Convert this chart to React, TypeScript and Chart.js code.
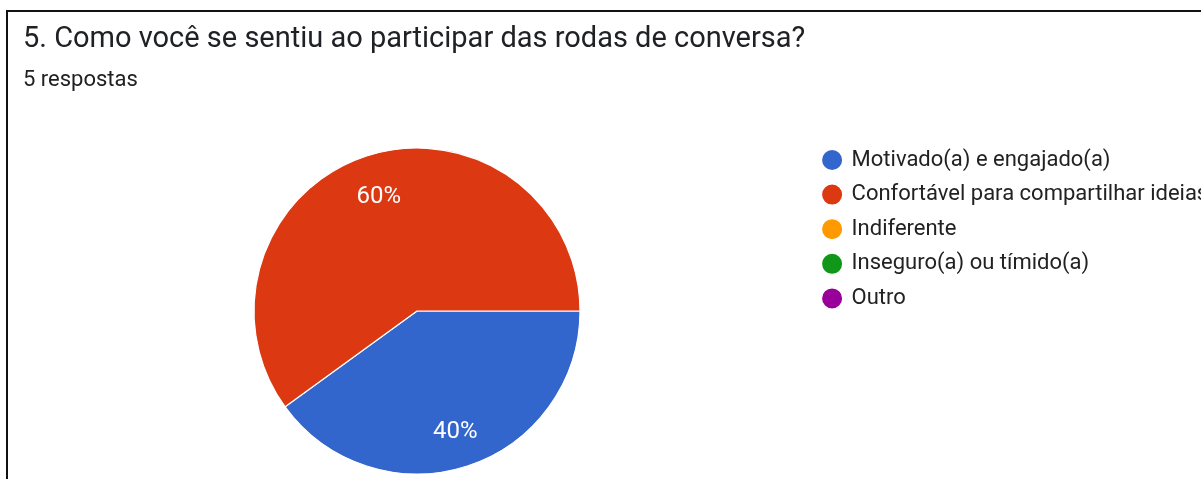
import React, { useEffect, useRef } from "react";
import { Chart, registerables } from "chart.js";

Chart.register(...registerables);

const TITLE = "5. Como você se sentiu ao participar das rodas de conversa?";
const SUBTITLE = "5 respostas";
const CATEGORIES = [
  "Motivado(a) e engajado(a)",
  "Confortável para compartilhar ideias",
  "Indiferente",
  "Inseguro(a) ou tímido(a)",
  "Outro",
];
const COUNTS = [2, 3, 0, 0, 0];
const COLORS = ["#3366cc", "#dc3912", "#ff9900", "#109618", "#990099"];

const FONT = "Roboto, 'Noto Sans', Arial, sans-serif";

const percentLabels = {
  id: "percentLabels",
  afterDatasetsDraw(chart: any) {
    const meta = chart.getDatasetMeta(0);
    const data = chart.data.datasets[0].data as number[];
    const total = data.reduce((a, b) => a + b, 0);
    const ctx = chart.ctx;
    const size = 24;
    ctx.save();
    ctx.fillStyle = "#ffffff";
    ctx.font = `${size}px ${FONT}`;
    ctx.textAlign = "center";
    ctx.textBaseline = "alphabetic";
    meta.data.forEach((arc: any, i: number) => {
      const v = data[i];
      if (!v) return;
      const { x, y, startAngle, endAngle, outerRadius } = arc.getProps(
        ["x", "y", "startAngle", "endAngle", "outerRadius"],
        true
      );
      const mid = (startAngle + endAngle) / 2;
      const r = outerRadius * 0.76;
      const pct = Math.round((v / total) * 100) + "%";
      ctx.fillText(pct, x + Math.cos(mid) * r, y + Math.sin(mid) * r + size * 0.355 + 1);
    });
    ctx.restore();
  },
};

export default function App() {
  const ref = useRef<HTMLCanvasElement | null>(null);

  useEffect(() => {
    if (!ref.current) return;
    const chart = new Chart(ref.current, {
      type: "pie",
      data: {
        labels: CATEGORIES,
        datasets: [
          {
            data: COUNTS,
            backgroundColor: COLORS,
            borderColor: "#ffffff",
            borderWidth: 1.2,
          },
        ],
      },
      options: {
        responsive: false,
        animation: false,
        devicePixelRatio: 1,
        rotation: 90,
        radius: 163,
        layout: { padding: { left: 23, right: 0, top: 0, bottom: 0.4 } },
        plugins: {
          title: {
            display: true,
            text: TITLE,
            align: "start",
            color: "#202124",
            font: { family: FONT, size: 29, weight: "normal", lineHeight: 1.2 },
            padding: { top: 22.6, bottom: 0 },
          },
          subtitle: {
            display: true,
            text: SUBTITLE,
            align: "start",
            color: "#202124",
            font: { family: FONT, size: 22, weight: "normal", lineHeight: 1.2 },
            padding: { top: 10.1, bottom: 42.5 },
          },
          legend: {
            display: true,
            position: "right",
            align: "start",
            fullSize: false,
            maxWidth: 390,
            labels: {
              usePointStyle: true,
              pointStyle: "circle",
              boxWidth: 17,
              boxHeight: 15,
              padding: 12.6,
              color: "#222222",
              font: { family: FONT, size: 22 },
            },
          },
          tooltip: { enabled: false },
        },
      },
      plugins: [percentLabels],
    });
    return () => chart.destroy();
  }, []);

  return (
    <div
      style={{
        position: "fixed",
        left: 0,
        top: 0,
        width: 1201,
        height: 479,
        overflow: "hidden",
        background: "#ffffff",
      }}
    >
      <canvas
        ref={ref}
        width={1201}
        height={486}
        style={{ position: "absolute", left: 0, top: 0, width: 1201, height: 486 }}
      />
      <div
        style={{
          position: "absolute",
          left: 6,
          top: 10,
          width: 1300,
          height: 600,
          borderLeft: "2px solid #111",
          borderTop: "2px solid #111",
          pointerEvents: "none",
        }}
      />
    </div>
  );
}
